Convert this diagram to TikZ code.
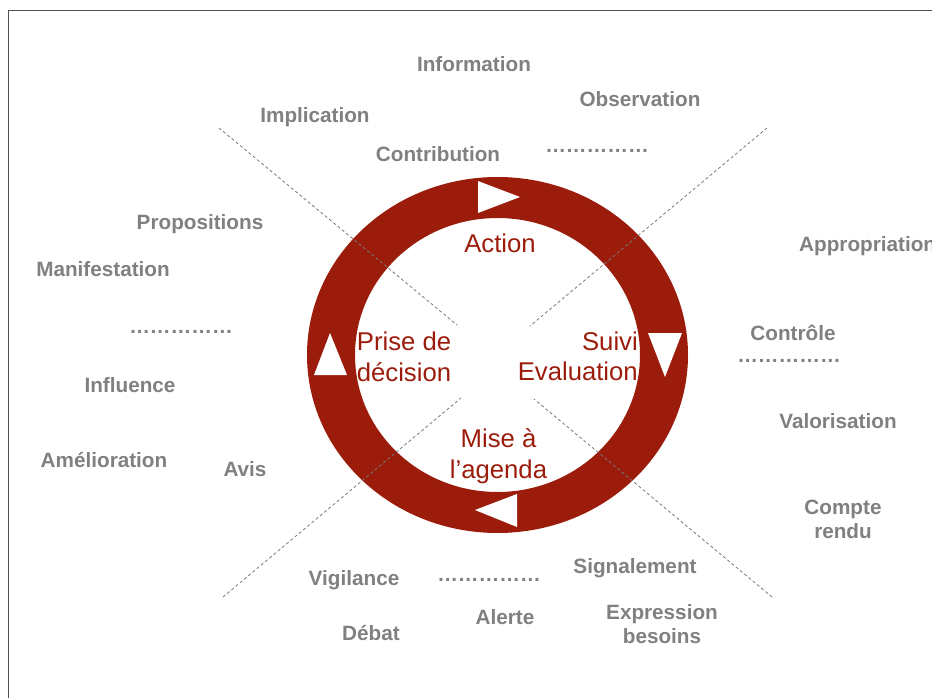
\documentclass[tikz,border=0pt]{standalone}
\usepackage{fontspec}
\setmainfont{Liberation Sans}
\definecolor{ringred}{RGB}{156,28,12}
\definecolor{lblgray}{RGB}{128,128,128}
\definecolor{dashgray}{RGB}{120,120,120}
\definecolor{framegray}{RGB}{80,80,80}
\tikzset{
  graylbl/.style={inner sep=0pt, text=lblgray, align=center,
    font=\fontsize{20.7}{24}\selectfont\bfseries},
  redlbl/.style={inner sep=0pt, text=ringred,
    font=\fontsize{25.7}{30.5}\selectfont},
  sepline/.style={draw=dashgray, line width=0.8pt, dash pattern=on 3pt off 2.5pt},
}
\begin{document}
\begin{tikzpicture}[x=1pt,y=-1pt]
\useasboundingbox (0,0) rectangle (932,698);
% frame
\draw[framegray, line width=1.3pt] (8.5,698) -- (8.5,10.5) -- (932,10.5);
% ring
\fill[ringred, even odd rule] (497.5,355) ellipse [x radius=190.5, y radius=178]
  (497.5,355) ellipse [x radius=142.5, y radius=137];
% arrowheads
\fill[white] (478,181) -- (478,213) -- (520,197) -- cycle;
\fill[white] (648,333) -- (682,333) -- (665,377) -- cycle;
\fill[white] (517,494) -- (517,527) -- (475,510) -- cycle;
\fill[white] (314,375) -- (347,375) -- (330,333) -- cycle;
% dashed separators
\coordinate (ulo) at (219,128); \coordinate (uli) at (457,325);
\coordinate (uro) at (767,128); \coordinate (uri) at (530,326);
\coordinate (llo) at (223,597); \coordinate (lli) at (461,398);
\coordinate (lro) at (772,597); \coordinate (lri) at (534,399);
\draw[sepline] (ulo) -- (uli);
\draw[sepline] (uro) -- (uri);
\draw[sepline] (llo) -- (lli);
\draw[sepline] (lro) -- (lri);
% red stage labels (multi-line nodes: base = last line)
\node[redlbl, anchor=base] (action) at (500,252) {Action};
\node[redlbl, anchor=base, align=center] (prise) at (404,381) {Prise de\\décision};
\node[redlbl, anchor=base east, align=right] (suivi) at (638,380.5) {Suivi\\Evaluation};
\node[redlbl, anchor=base, align=center] (mise) at (498.5,478) {Mise à\\l’agenda};
% gray labels
\node[graylbl, anchor=base] (information) at (474,71.5) {Information};
\node[graylbl, anchor=base] (observation) at (640,106.5) {Observation};
\node[graylbl, anchor=base] (implication) at (315,122.5) {Implication};
\node[graylbl, anchor=base] (contribution) at (438,161.5) {Contribution};
\node[graylbl, anchor=base] (dotsa) at (597,153) {……………};
\node[graylbl, anchor=base] (propositions) at (200,229.5) {Propositions};
\node[graylbl, anchor=base west] (appropriation) at (799,251.5) {Appropriation};
\node[graylbl, anchor=base] (manifestation) at (103,276) {Manifestation};
\node[graylbl, anchor=base] (dotsb) at (181,333.5) {……………};
\node[graylbl, anchor=base] (controle) at (793,340) {Contrôle};
\node[graylbl, anchor=base] (dotsc) at (789,362) {……………};
\node[graylbl, anchor=base] (influence) at (130,392) {Influence};
\node[graylbl, anchor=base] (valorisation) at (838,428) {Valorisation};
\node[graylbl, anchor=base] (amelioration) at (104,467.5) {Amélioration};
\node[graylbl, anchor=base] (avis) at (245,476.5) {Avis};
\node[graylbl, anchor=base] (compte) at (843,538.5) {Compte\\rendu};
\node[graylbl, anchor=base] (signalement) at (635,573.5) {Signalement};
\node[graylbl, anchor=base] (vigilance) at (354,585.5) {Vigilance};
\node[graylbl, anchor=base] (dotsd) at (489,581) {……………};
\node[graylbl, anchor=base] (alerte) at (505,624.5) {Alerte};
\node[graylbl, anchor=base] (expression) at (662,643.5) {Expression\\besoins};
\node[graylbl, anchor=base] (debat) at (371,640.5) {Débat};
\end{tikzpicture}
\end{document}
